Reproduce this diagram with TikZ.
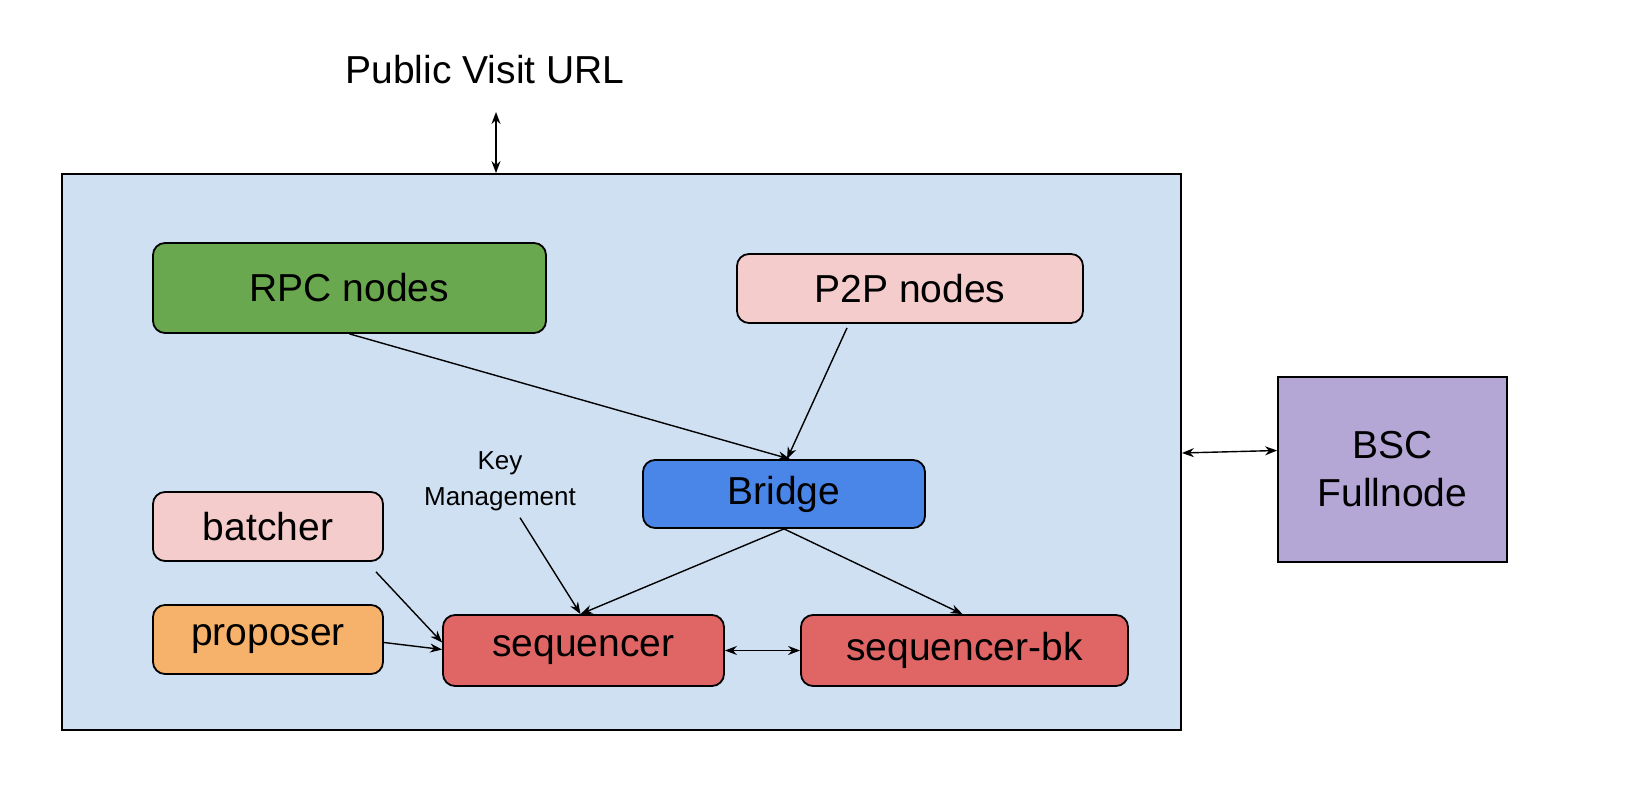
\documentclass[tikz,border=0pt]{standalone}
\usepackage{fontspec}
\setmainfont{Liberation Sans}
\usetikzlibrary{arrows.meta}
\definecolor{bg}{HTML}{CFE0F3}
\definecolor{grn}{HTML}{6AA84F}
\definecolor{pnk}{HTML}{F4CCCC}
\definecolor{blu}{HTML}{4A86E8}
\definecolor{org}{HTML}{F6B26B}
\definecolor{rd}{HTML}{E06666}
\definecolor{prp}{HTML}{B4A7D6}
\begin{document}
\begin{tikzpicture}[x=0.5pt,y=-0.5pt,
 box/.style={draw=black,line width=0.9pt,rounded corners=6pt,inner sep=0pt,font=\fontsize{19.5}{23}\selectfont},
 arr/.style={line width=0.7pt,-{Stealth[length=6pt,width=4.5pt]}},
 darr/.style={line width=0.7pt,{Stealth[length=6pt,width=4.5pt]}-{Stealth[length=6pt,width=4.5pt]}}]
\useasboundingbox (0,0) rectangle (1628,790);
\node[draw=black,line width=0.9pt,fill=bg,minimum width=559.5pt,minimum height=278pt,inner sep=0pt] (outer) at (621.5,452) {};
\node[font=\fontsize{19.5}{23}\selectfont] (url) at (485,70) {Public Visit URL};
\node[box,fill=grn,minimum width=196.5pt,minimum height=45pt] (rpc) at (349.5,288) {RPC nodes};
\node[box,fill=pnk,minimum width=173pt,minimum height=34.5pt] (p2p) at (910,288.5) {P2P nodes};
\node[box,fill=blu,minimum width=141pt,minimum height=34pt] (bridge) at (784,494) {Bridge};
\node[box,fill=pnk,minimum width=115pt,minimum height=34.5pt] (batcher) at (268,526.5) {batcher};
\node[box,fill=org,minimum width=115pt,minimum height=34.5pt] (proposer) at (268,639.5) {proposer};
\node[box,fill=rd,minimum width=140.5pt,minimum height=35.5pt] (seq) at (583.5,650.5) {sequencer};
\node[box,fill=rd,minimum width=163.5pt,minimum height=35.5pt] (seqbk) at (964.5,650.5) {sequencer-bk};
\node[draw=black,line width=0.9pt,fill=prp,minimum width=114.5pt,minimum height=92.5pt,inner sep=0pt,align=center,font=\fontsize{19.5}{24}\selectfont] (bsc) at (1392.5,469.5) {BSC\\Fullnode};
\node[align=center,font=\fontsize{13}{18}\selectfont] (key) at (500,481) {Key\\Management};
\coordinate (u1) at (496,112);
\draw[darr] (u1) -- ([xshift=-62.75pt]outer.north);
\draw[arr] (rpc.south) -- ([xshift=3pt]bridge.north);
\draw[arr] ([xshift=-31.5pt,yshift=-2pt]p2p.south) -- ([xshift=1.5pt]bridge.north);
\draw[arr] (bridge.south) -- ([xshift=-1.5pt]seq.north);
\draw[arr] (bridge.south) -- ([xshift=-1pt]seqbk.north);
\draw[arr] ([xshift=10pt]key.south) -- ([xshift=-1.5pt]seq.north);
\draw[arr] ([xshift=54pt,yshift=-5pt]batcher.south) -- ([yshift=4pt]seq.west);
\draw[arr] ([yshift=-1.5pt]proposer.east) -- ([yshift=0.5pt]seq.west);
\draw[darr] (seq.east) -- (seqbk.west);
\draw[darr] ([yshift=-0.5pt]outer.east) -- ([yshift=9.5pt]bsc.west);
\end{tikzpicture}
\end{document}
